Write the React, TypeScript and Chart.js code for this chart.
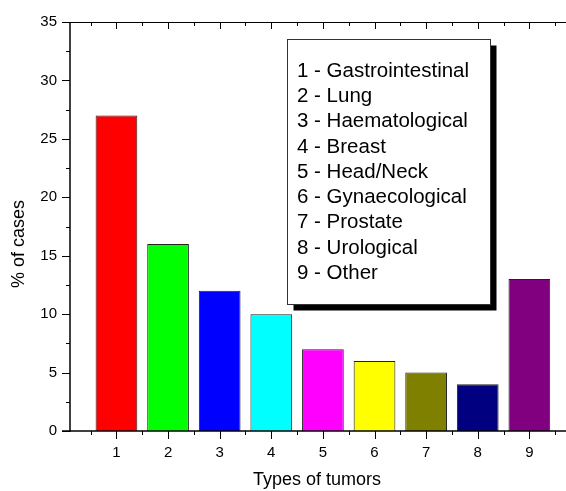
import React, { useEffect, useRef } from 'react';
import { Chart, registerables } from 'chart.js';

Chart.register(...registerables);

const CATEGORIES = [1, 2, 3, 4, 5, 6, 7, 8, 9];
const VALUES = [27, 16, 12, 10, 7, 6, 5, 4, 13];
const COLORS = ['#FF0000', '#00FF00', '#0000FF', '#00FFFF', '#FF00FF', '#FFFF00', '#808000', '#000080', '#800080'];
const TUMOR_TYPES = ['Gastrointestinal', 'Lung', 'Haematological', 'Breast', 'Head/Neck', 'Gynaecological', 'Prostate', 'Urological', 'Other'];
const Y_TICKS = [0, 5, 10, 15, 20, 25, 30, 35];
const Y_MINOR = [2.5, 7.5, 12.5, 17.5, 22.5, 27.5, 32.5];
const X_TITLE = 'Types of tumors';
const Y_TITLE = '% of cases';

const FONT = '"Liberation Sans", Arial, sans-serif';

const framePlugin = {
  id: 'frame',
  afterDatasetsDraw(chart: any) {
    const ctx = chart.ctx as CanvasRenderingContext2D;
    const { left, right, top, bottom } = chart.chartArea;
    const xs = chart.scales.x;
    const ys = chart.scales.y;
    ctx.save();
    ctx.strokeStyle = '#000';
    ctx.lineCap = 'butt';

    // left axis
    ctx.lineWidth = 1.5;
    ctx.beginPath();
    ctx.moveTo(left, top);
    ctx.lineTo(left, bottom + 0.75);
    ctx.stroke();
    // bottom axis
    ctx.beginPath();
    ctx.moveTo(left - 8, bottom);
    ctx.lineTo(right, bottom);
    ctx.stroke();
    // top axis
    ctx.lineWidth = 1;
    ctx.beginPath();
    ctx.moveTo(left - 8, top + 0.5);
    ctx.lineTo(right, top + 0.5);
    ctx.stroke();

    ctx.lineWidth = 1;
    // y ticks (outward)
    Y_TICKS.forEach((v) => {
      const y = Math.round(ys.getPixelForValue(v)) + 0.5;
      ctx.beginPath();
      ctx.moveTo(left - 8, y);
      ctx.lineTo(left, y);
      ctx.stroke();
    });
    Y_MINOR.forEach((v) => {
      const y = Math.round(ys.getPixelForValue(v)) + 0.5;
      ctx.beginPath();
      ctx.moveTo(left - 4, y);
      ctx.lineTo(left, y);
      ctx.stroke();
    });
    // x ticks
    CATEGORIES.forEach((c) => {
      const x = Math.round(xs.getPixelForValue(c)) + 0.5;
      ctx.beginPath();
      ctx.moveTo(x, bottom);
      ctx.lineTo(x, bottom + 8);
      ctx.stroke();
      ctx.beginPath();
      ctx.moveTo(x, top);
      ctx.lineTo(x, top + 7);
      ctx.stroke();
    });
    [0.5, ...CATEGORIES.map((c) => c + 0.5)].forEach((c) => {
      const x = Math.round(xs.getPixelForValue(c)) + 0.5;
      if (x < left || x > right) return;
      ctx.beginPath();
      ctx.moveTo(x, bottom);
      ctx.lineTo(x, bottom + 4);
      ctx.stroke();
      ctx.beginPath();
      ctx.moveTo(x, top);
      ctx.lineTo(x, top + 4);
      ctx.stroke();
    });

    // axis titles
    ctx.fillStyle = '#000';
    ctx.font = `18px ${FONT}`;
    ctx.textAlign = 'center';
    ctx.textBaseline = 'middle';
    ctx.fillText(X_TITLE, (left + right) / 2 - 1, 480);
    ctx.save();
    ctx.translate(19, 244);
    ctx.rotate(-Math.PI / 2);
    ctx.fillText(Y_TITLE, 0, 0);
    ctx.restore();

    // legend box
    const bx = 287.5, by = 39.5, bw = 203, bh = 265;
    ctx.fillStyle = '#000';
    ctx.fillRect(bx + 6, by + 6, bw, bh);
    ctx.fillStyle = '#fff';
    ctx.fillRect(bx, by, bw, bh);
    ctx.strokeStyle = '#333';
    ctx.lineWidth = 1;
    ctx.strokeRect(bx, by, bw, bh);
    ctx.fillStyle = '#000';
    ctx.font = `20.5px ${FONT}`;
    ctx.textAlign = 'left';
    ctx.textBaseline = 'middle';
    TUMOR_TYPES.forEach((t, i) => {
      ctx.fillText(`${CATEGORIES[i]} - ${t}`, 297, 71 + i * 25.3);
    });
    ctx.restore();
  },
};

export default function App() {
  const ref = useRef<HTMLCanvasElement>(null);
  useEffect(() => {
    document.body.style.margin = '0';
    document.body.style.overflow = 'hidden';
    const chart = new Chart(ref.current!, {
      type: 'bar',
      data: {
        datasets: [
          {
            data: CATEGORIES.map((c, i) => ({ x: c, y: VALUES[i] })),
            backgroundColor: COLORS,
            borderColor: '#222',
            borderWidth: 1,
            categoryPercentage: 1,
            barPercentage: 0.808,
          },
        ],
      },
      options: {
        responsive: false,
        animation: false,
        layout: { padding: { left: 0, right: 0, top: 20, bottom: 0 } },
        plugins: { legend: { display: false }, tooltip: { enabled: false } },
        scales: {
          x: {
            type: 'linear',
            offset: false,
            min: 0.1,
            max: 9.71,
            afterBuildTicks: (s: any) => {
              s.ticks = CATEGORIES.map((v) => ({ value: v }));
            },
            afterFit: (s: any) => {
              s.height = 60;
            },
            grid: { display: false, drawTicks: false, offset: false },
            border: { display: false },
            ticks: {
              padding: 13,
              color: '#000',
              font: { family: FONT, size: 15 },
              maxRotation: 0,
              autoSkip: false,
            },
          },
          y: {
            min: 0,
            max: 35,
            afterBuildTicks: (s: any) => {
              s.ticks = Y_TICKS.map((v) => ({ value: v }));
            },
            afterFit: (s: any) => {
              s.width = 70;
            },
            grid: { display: false, drawTicks: false },
            border: { display: false },
            ticks: {
              padding: 13,
              color: '#000',
              font: { family: FONT, size: 15 },
            },
          },
        },
      },
      plugins: [framePlugin],
    });
    return () => chart.destroy();
  }, []);
  return <canvas ref={ref} width={566} height={491} style={{ display: 'block' }} />;
}
